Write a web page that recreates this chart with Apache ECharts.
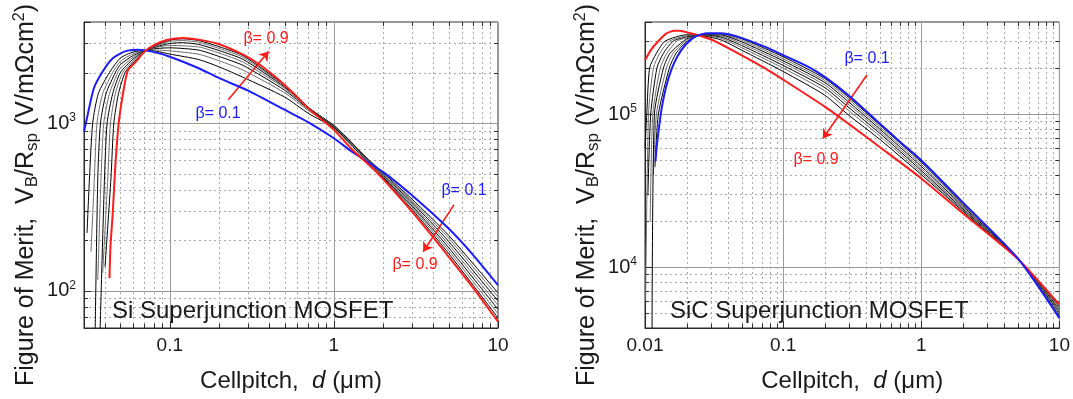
<!DOCTYPE html>
<html><head><meta charset="utf-8">
<script src="https://cdn.jsdelivr.net/npm/echarts@6.0.0/dist/echarts.min.js"></script>
<style>html,body{margin:0;padding:0;background:#fff}#c{width:1073px;height:399px}</style>
</head><body><div id="c"></div>
<script>
// ---------------- DATA: Si superjunction (left panel) [d (um), FOM] ----------------
const siBeta01 = [[0.0300,890],[0.0308,1000],[0.0345,1616],[0.0390,2030],[0.0451,2439],[0.0534,2673],[0.0634,2731],[0.0769,2673],[0.100,2484],[0.150,2120],[0.200,1850],[0.300,1560],[0.500,1200],[0.700,1010],[1.00,811],[1.30,670],[2.00,510],[3.00,370],[5.00,235],[7.00,165],[10.0,108]];
const siBeta02 = [[0.0313,221],[0.0324,470],[0.0339,1000],[0.0367,1500],[0.0429,2000],[0.050,2440],[0.060,2650],[0.075,2710],[0.100,2575],[0.150,2390],[0.200,2160],[0.280,1871],[0.500,1430],[0.700,1140],[1.00,935],[1.30,740],[2.00,503],[3.00,351],[5.00,214],[10.0,97]];
const siBeta03 = [[0.0331,171],[0.0347,470],[0.0360,1000],[0.0390,1500],[0.0449,2000],[0.050,2330],[0.060,2590],[0.075,2730],[0.100,2692],[0.150,2570],[0.200,2350],[0.280,2066],[0.500,1515],[0.700,1185],[1.00,955],[1.30,750],[2.00,496],[3.00,343],[5.00,206],[10.0,92]];
const siBeta04 = [[0.0351,58],[0.0364,470],[0.0378,1000],[0.0409,1500],[0.0466,2000],[0.050,2230],[0.060,2530],[0.075,2745],[0.100,2806],[0.150,2720],[0.200,2490],[0.280,2203],[0.500,1570],[0.700,1210],[1.00,965],[1.30,755],[2.00,489],[3.00,335],[5.00,197],[10.0,87]];
const siBeta05 = [[0.0364,116],[0.0381,470],[0.0396,1000],[0.0429,1500],[0.0482,2000],[0.050,2120],[0.060,2470],[0.075,2755],[0.100,2900],[0.150,2840],[0.200,2610],[0.280,2305],[0.500,1610],[0.700,1225],[1.00,970],[1.30,755],[2.00,482],[3.00,327],[5.00,189],[10.0,82]];
const siBeta06 = [[0.0376,58],[0.0400,470],[0.0415,1000],[0.0449,1500],[0.0500,2000],[0.060,2410],[0.075,2765],[0.100,2979],[0.120,3010],[0.150,2940],[0.200,2700],[0.280,2393],[0.500,1640],[0.700,1235],[1.00,965],[1.30,750],[2.00,475],[3.00,320],[5.00,181],[10.0,77.5]];
const siBeta07 = [[0.0390,128],[0.0419,470],[0.0435,1000],[0.0466,1500],[0.0517,2000],[0.060,2350],[0.075,2775],[0.100,3063],[0.120,3100],[0.150,3030],[0.200,2780],[0.280,2461],[0.500,1665],[0.700,1240],[1.00,955],[1.30,740],[2.00,469],[3.00,313],[5.00,174],[10.0,73]];
const siBeta08 = [[0.0403,139],[0.0438,470],[0.0456,1000],[0.0487,1500],[0.0534,2000],[0.060,2300],[0.075,2785],[0.100,3119],[0.120,3175],[0.150,3100],[0.200,2850],[0.280,2518],[0.500,1680],[0.700,1235],[1.00,940],[1.30,725],[2.00,464],[3.00,305],[5.00,167],[10.0,69]];
const siBeta09 = [[0.0429,119],[0.0435,184],[0.0449,290],[0.0464,525],[0.0487,977],[0.0517,1473],[0.0554,2046],[0.0624,2328],[0.0702,2673],[0.0807,2924],[0.097,3134],[0.120,3215],[0.150,3140],[0.200,2950],[0.280,2553],[0.354,2223],[0.448,1852],[0.565,1510],[0.714,1200],[1.00,910],[1.30,690],[1.80,515],[3.00,295],[5.00,160],[7.00,105],[10.0,65.5]];

// ---------------- DATA: SiC superjunction (right panel) ----------------
const sicBeta01 = [[0.0119,49000],[0.0122,63000],[0.0127,85000],[0.0132,109000],[0.01415,148000],[0.01536,190000],[0.01714,238000],[0.01967,284000],[0.02321,322000],[0.02815,338000],[0.0351,338000],[0.0462,322000],[0.0741,275000],[0.100,243000],[0.150,205000],[0.200,175000],[0.300,132000],[0.500,87000],[0.700,66000],[1.00,50000],[2.00,26500],[5.00,11400],[10.0,4640]];
const sicBeta02 = [[0.0118,45000],[0.0125,100000],[0.0150,200000],[0.0168,250000],[0.0200,297000],[0.0245,326000],[0.035,336000],[0.050,311000],[0.100,237000],[0.200,171000],[0.300,128000],[0.500,85000],[1.00,48500],[2.00,26000],[5.00,11400],[10.0,4800]];
const sicBeta03 = [[0.0115,40000],[0.0121,100000],[0.0143,200000],[0.0160,250000],[0.0200,304000],[0.0245,326000],[0.035,333000],[0.050,304000],[0.100,230000],[0.200,166000],[0.300,124000],[0.500,82500],[1.00,47000],[2.00,25500],[5.00,11400],[10.0,4930]];
const sicBeta04 = [[0.01125,3800],[0.0117,100000],[0.0136,200000],[0.0152,250000],[0.0200,310000],[0.0245,327000],[0.035,329000],[0.050,297000],[0.100,223000],[0.200,161000],[0.300,119500],[0.500,80000],[1.00,45500],[2.00,25000],[5.00,11400],[10.0,5050]];
const sicBeta05 = [[0.0109,20000],[0.0114,100000],[0.0129,200000],[0.0144,250000],[0.0170,300000],[0.0200,315000],[0.0245,327000],[0.035,325000],[0.050,289000],[0.100,216000],[0.200,155000],[0.300,115000],[0.500,77500],[1.00,44000],[2.00,24500],[5.00,11400],[10.0,5170]];
const sicBeta06 = [[0.0105,30000],[0.0110,100000],[0.0122,200000],[0.0136,250000],[0.0160,300000],[0.0200,320000],[0.0245,327000],[0.035,320000],[0.050,281000],[0.100,208000],[0.200,149000],[0.300,110000],[0.500,75000],[1.00,42700],[2.00,24000],[5.00,11400],[10.0,5300]];
const sicBeta07 = [[0.0101,6000],[0.0106,100000],[0.0115,200000],[0.0128,250000],[0.0150,300000],[0.0200,325000],[0.0245,327000],[0.035,314000],[0.050,272000],[0.100,200000],[0.200,142000],[0.300,105000],[0.500,72000],[1.00,41400],[2.00,23600],[5.00,11350],[10.0,5420]];
const sicBeta08 = [[0.0100,60000],[0.0103,100000],[0.0108,200000],[0.0121,250000],[0.0140,300000],[0.0200,330000],[0.0245,327000],[0.035,307000],[0.050,262000],[0.100,190000],[0.200,133000],[0.300,98000],[0.500,68500],[1.00,40200],[2.00,23200],[5.00,11300],[10.0,5550]];
const sicBeta09 = [[0.0100,225000],[0.01104,263000],[0.01233,296000],[0.01422,336000],[0.01626,350000],[0.01774,350000],[0.02137,338000],[0.0245,328000],[0.0307,305000],[0.0427,262000],[0.0741,199000],[0.100,168000],[0.200,112000],[0.300,86000],[0.500,61000],[1.00,38000],[2.00,22500],[5.00,11300],[10.0,5680]];

// ---------------- tick labels / minor grid values ----------------
const siXTicks = [0.1, 1, 10];
const siYTicks = [100, 1000];
const sicXTicks = [0.01, 0.1, 1, 10];
const sicYTicks = [10000, 100000];
const siMinorX = [0.04,0.05,0.06,0.07,0.08,0.09,0.2,0.3,0.4,0.5,0.6,0.7,0.8,0.9,2,3,4,5,6,7,8,9];
const siMinorY = [70,80,90,200,300,400,500,600,700,800,900,2000,3000];
const sicMinorX = [0.02,0.03,0.04,0.05,0.06,0.07,0.08,0.09,0.2,0.3,0.4,0.5,0.6,0.7,0.8,0.9,2,3,4,5,6,7,8,9];
const sicMinorY = [5000,6000,7000,8000,9000,20000,30000,40000,50000,60000,70000,80000,90000,200000,300000];

// annotation arrows (data coordinates: tail, head)
const siArrowUp = [[0.227,1377],[0.400,2672]];
const siArrowDown = [[5.39,325],[3.50,171]];
const sicArrow = [[0.404,180000],[0.194,69300]];

// ---------------- styling ----------------
const FONT = '"Liberation Sans", Arial, Helvetica, sans-serif';
const TXT = '#1a1a1a';
const FRAME = '#2a2a2a';
const GRID_MAJOR = '#9a9a9a';
const GRID_MINOR = '#a8a8a8';
const BLUE = '#1c1cff';
const RED = '#ff1c1c';
const BLACK = '#000000';
const GRAY = '#6e6e6e';

function near(v, list) { return list.find(t => Math.abs(t - v) / t < 1e-6); }

function mkX(idx, min, max, ticks) {
  return {
    type: 'log', logBase: 10, gridIndex: idx, min: min, max: max,
    axisLine: {show: true, lineStyle: {color: FRAME, width: 1}},
    axisTick: {show: true, inside: true, length: 7, lineStyle: {color: FRAME}},
    minorTick: {show: false},
    splitLine: {show: true, lineStyle: {color: GRID_MAJOR, width: 1}},
    axisLabel: {
      margin: 8, fontSize: 19, color: TXT, fontFamily: FONT,
      formatter: function (v) { const t = near(v, ticks); return t === undefined ? '' : String(t); }
    },
    name: '{t|Cellpitch,  }{i|d}{t| (\u03bcm)}',
    nameLocation: 'middle', nameGap: 41,
    nameTextStyle: {
      fontFamily: FONT, fontSize: 24, color: TXT,
      rich: {
        t: {fontFamily: FONT, fontSize: 24, color: TXT},
        i: {fontFamily: FONT, fontSize: 24, color: TXT, fontStyle: 'italic'}
      }
    }
  };
}

function mkY(idx, min, max, ticks) {
  return {
    type: 'log', logBase: 10, gridIndex: idx, min: min, max: max,
    axisLine: {show: true, lineStyle: {color: FRAME, width: 1}},
    axisTick: {show: true, inside: true, length: 7, lineStyle: {color: FRAME}},
    minorTick: {show: false},
    splitLine: {show: true, lineStyle: {color: GRID_MAJOR, width: 1}},
    axisLabel: {
      margin: 8, color: TXT, fontFamily: FONT,
      formatter: function (v) {
        const t = near(v, ticks);
        if (t === undefined) return '';
        return '{b|10}{s|' + Math.round(Math.log10(t)) + '}';
      },
      rich: {
        b: {fontFamily: FONT, fontSize: 20, color: TXT, lineHeight: 22},
        s: {fontFamily: FONT, fontSize: 12, color: TXT, lineHeight: 12, verticalAlign: 'top'}
      }
    },
    name: '{t|Figure of Merit,  V}{sub|B}{t|/R}{sub|sp}{t| (V/m\u03a9cm}{sup|2}{t|)}',
    nameLocation: 'middle', nameGap: 43,
    nameTextStyle: {
      fontFamily: FONT, fontSize: 25, color: TXT, padding: [0, 40, 0, 0],
      rich: {
        t: {fontFamily: FONT, fontSize: 25, color: TXT, lineHeight: 29},
        sub: {fontFamily: FONT, fontSize: 17, color: TXT, lineHeight: 21, verticalAlign: 'bottom'},
        sup: {fontFamily: FONT, fontSize: 16, color: TXT, lineHeight: 16, verticalAlign: 'top'}
      }
    }
  };
}

function mkMinor(idx, values, dir, ref) {
  return {
    type: 'custom', xAxisIndex: idx, yAxisIndex: idx, silent: true, z: 1,
    data: values.map(v => dir === 'v' ? [v, ref] : [ref, v]),
    encode: {x: 0, y: 1},
    renderItem: function (params, api) {
      const cs = params.coordSys;
      const p = api.coord([api.value(0), api.value(1)]);
      const dash = {stroke: GRID_MINOR, lineWidth: 1, lineDash: [2, 3]};
      const tk = {stroke: FRAME, lineWidth: 1};
      if (dir === 'v') {
        const x = Math.round(p[0]) + 0.5;
        return {type: 'group', children: [
          {type: 'line', shape: {x1: x, y1: cs.y, x2: x, y2: cs.y + cs.height}, style: dash},
          {type: 'line', shape: {x1: x, y1: cs.y + cs.height, x2: x, y2: cs.y + cs.height - 4}, style: tk},
          {type: 'line', shape: {x1: x, y1: cs.y, x2: x, y2: cs.y + 4}, style: tk}
        ]};
      }
      const y = Math.round(p[1]) + 0.5;
      return {type: 'group', children: [
        {type: 'line', shape: {x1: cs.x, y1: y, x2: cs.x + cs.width, y2: y}, style: dash},
        {type: 'line', shape: {x1: cs.x, y1: y, x2: cs.x + 4, y2: y}, style: tk},
        {type: 'line', shape: {x1: cs.x + cs.width, y1: y, x2: cs.x + cs.width - 4, y2: y}, style: tk}
      ]};
    }
  };
}

function mkLine(idx, data, color, width, z, arrows) {
  const s = {
    type: 'line', xAxisIndex: idx, yAxisIndex: idx, data: data,
    showSymbol: false, symbol: 'none', smooth: 0.22,
    lineStyle: {color: color, width: width}, itemStyle: {color: color},
    z: z, silent: true, emphasis: {disabled: true}
  };
  if (arrows) {
    s.markLine = {
      silent: true, symbol: ['none', 'arrow'], symbolSize: 9, animation: false,
      label: {show: false},
      lineStyle: {color: RED, width: 1.6, type: 'solid'},
      data: arrows.map(a => [{coord: a[0]}, {coord: a[1]}])
    };
  }
  return s;
}

const siSeries = [siBeta02, siBeta03, siBeta04, siBeta05, siBeta06, siBeta07, siBeta08];
const sicSeries = [sicBeta02, sicBeta03, sicBeta04, sicBeta05, sicBeta06, sicBeta07, sicBeta08];

const series = [
  mkMinor(0, siMinorX, 'v', 500), mkMinor(0, siMinorY, 'h', 1),
  mkMinor(1, sicMinorX, 'v', 50000), mkMinor(1, sicMinorY, 'h', 1)
];
siSeries.forEach((d, i) => series.push(mkLine(0, d, i % 2 === 0 ? BLACK : GRAY, 1, 3)));
series.push(mkLine(0, siBeta01, BLUE, 2, 5));
series.push(mkLine(0, siBeta09, RED, 2, 6, [siArrowUp, siArrowDown]));
sicSeries.forEach((d, i) => series.push(mkLine(1, d, i % 2 === 0 ? BLACK : GRAY, 1, 3)));
series.push(mkLine(1, sicBeta09, RED, 2, 5, [sicArrow]));
series.push(mkLine(1, sicBeta01, BLUE, 2, 6));

function txt(x, y, s, color, size, align) {
  return {type: 'text', x: x, y: y, z: 100, silent: true,
    style: {text: s, fill: color, font: size + 'px ' + FONT, align: align || 'center', verticalAlign: 'middle'}};
}

const option = {
  animation: false,
  backgroundColor: '#ffffff',
  textStyle: {fontFamily: FONT},
  grid: [
    {left: 84, top: 22, width: 414, height: 306, show: true, borderColor: FRAME, borderWidth: 1, backgroundColor: 'transparent'},
    {left: 645, top: 22, width: 419, height: 306, show: true, borderColor: FRAME, borderWidth: 1, backgroundColor: 'transparent'}
  ],
  xAxis: [mkX(0, 0.03, 10, siXTicks), mkX(1, 0.01, 10, sicXTicks)],
  yAxis: [mkY(0, 60, 4000, siYTicks), mkY(1, 4000, 400000, sicYTicks)],
  series: series,
  graphic: [
    txt(266, 39, '\u03b2= 0.9', RED, 16),
    txt(218, 114, '\u03b2= 0.1', BLUE, 16),
    txt(464, 191, '\u03b2= 0.1', BLUE, 16),
    txt(415, 265, '\u03b2= 0.9', RED, 16),
    txt(867, 59, '\u03b2= 0.1', BLUE, 16),
    txt(816, 160, '\u03b2= 0.9', RED, 16),
    txt(112, 311, 'Si Superjunction MOSFET', TXT, 24, 'left'),
    txt(670, 311, 'SiC Superjunction MOSFET', TXT, 24, 'left')
  ]
};

const chart = echarts.init(document.getElementById('c'), null, {renderer: 'canvas'});
chart.setOption(option);
</script></body></html>
